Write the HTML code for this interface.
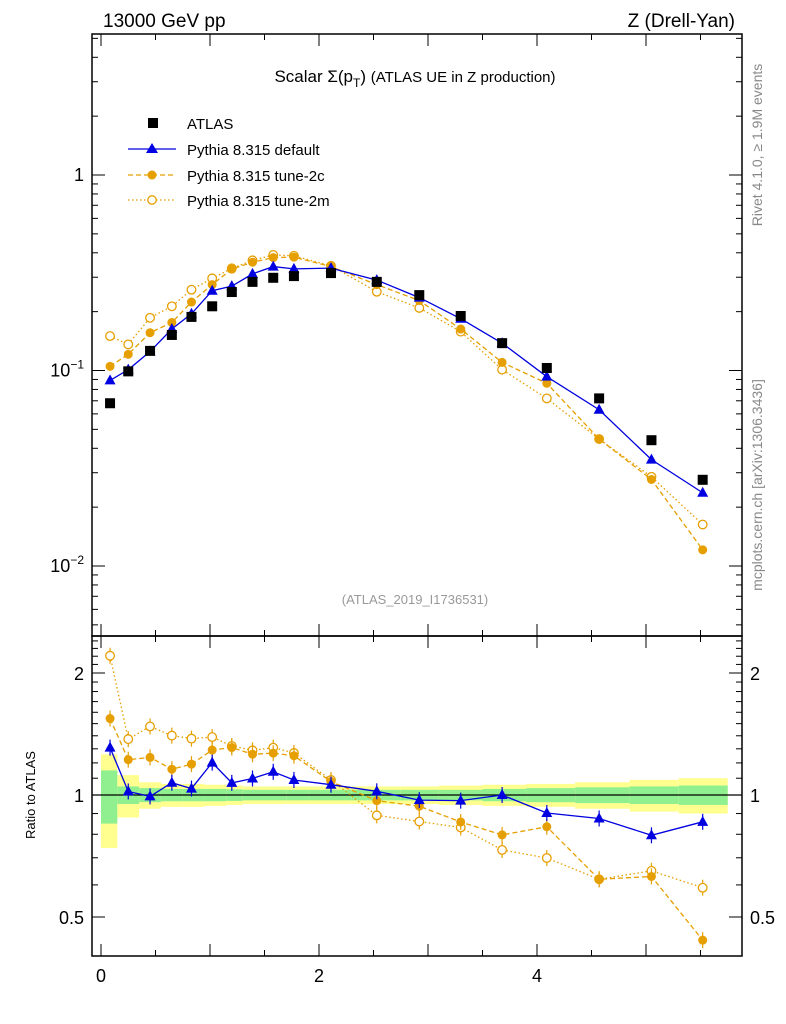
<!DOCTYPE html>
<html><head><meta charset="utf-8"><style>
html,body{margin:0;padding:0;background:#fff}
svg{display:block;font-family:"Liberation Sans",sans-serif}
</style></head><body>
<svg id="chart" width="786" height="1024" viewBox="0 0 786 1024" xmlns="http://www.w3.org/2000/svg">
<text x="103" y="27" font-size="19">13000 GeV pp</text>
<text x="735" y="27" font-size="19" text-anchor="end">Z (Drell-Yan)</text>
<text x="415" y="82" font-size="17" text-anchor="middle">Scalar Σ(p<tspan font-size="12" dy="5">T</tspan><tspan dy="-5">) </tspan><tspan font-size="15">(ATLAS UE in Z production)</tspan></text>
<text transform="translate(762,145) rotate(-90)" font-size="14" fill="#888" text-anchor="middle">Rivet 4.1.0, ≥ 1.9M events</text>
<text transform="translate(762,485) rotate(-90)" font-size="14" fill="#888" text-anchor="middle">mcplots.cern.ch [arXiv:1306.3436]</text>
<text x="415" y="604" font-size="13" fill="#999" text-anchor="middle">(ATLAS_2019_I1736531)</text>
<text transform="translate(35,795) rotate(-90)" font-size="13" text-anchor="middle">Ratio to ATLAS</text>
<g id="bands"></g><g id="axes"></g><g id="series"></g>
<g>
 <rect x="148" y="118" width="10" height="10" fill="#000"/>
 <text x="187" y="129" font-size="15">ATLAS</text>
 <line x1="128" y1="149" x2="176" y2="149" stroke="#0000e0" stroke-width="1.3"/>
 <polygon points="152,143 158,153 146,153" fill="#0000e0"/>
 <text x="187" y="155" font-size="15">Pythia 8.315 default</text>
 <line x1="128" y1="175" x2="176" y2="175" stroke="#e69f00" stroke-width="1.3" stroke-dasharray="5,3"/>
 <circle cx="152" cy="175" r="4.5" fill="#e69f00"/>
 <text x="187" y="181" font-size="15">Pythia 8.315 tune-2c</text>
 <line x1="128" y1="200" x2="176" y2="200" stroke="#e69f00" stroke-width="1.3" stroke-dasharray="1.5,2.5"/>
 <circle cx="152" cy="200" r="4.2" fill="#fff" stroke="#e69f00" stroke-width="1.3"/>
 <text x="187" y="206" font-size="15">Pythia 8.315 tune-2m</text>
</g>
</svg>
<script>
const xCenters=[0.083,0.25,0.45,0.65,0.83,1.02,1.2,1.39,1.58,1.77,2.11,2.53,2.92,3.3,3.68,4.09,4.57,5.05,5.52];
const atlasVals=[0.068,0.099,0.126,0.152,0.188,0.213,0.252,0.284,0.298,0.304,0.315,0.284,0.243,0.19,0.138,0.103,0.072,0.044,0.0276];
const defaultVals=[0.089,0.101,0.125,0.163,0.195,0.256,0.27,0.312,0.34,0.331,0.334,0.29,0.236,0.184,0.138,0.093,0.063,0.035,0.0237];
const tune2cVals=[0.105,0.121,0.156,0.176,0.224,0.275,0.33,0.358,0.378,0.38,0.34,0.275,0.228,0.163,0.11,0.086,0.0446,0.0277,0.0121];
const tune2mVals=[0.15,0.136,0.186,0.213,0.259,0.296,0.333,0.366,0.39,0.386,0.343,0.253,0.209,0.158,0.101,0.072,0.0446,0.0286,0.0163];
const binEdges=[0,0.15,0.35,0.55,0.75,0.95,1.15,1.3,1.5,1.7,1.9,2.3,2.75,3.1,3.5,3.9,4.35,4.85,5.3,5.75];
const greenErr=[0.15,0.05,0.04,0.035,0.035,0.035,0.033,0.03,0.03,0.03,0.03,0.03,0.03,0.03,0.035,0.04,0.045,0.05,0.055];
const yellowErr=[0.26,0.12,0.075,0.065,0.065,0.06,0.055,0.05,0.05,0.05,0.05,0.05,0.05,0.055,0.06,0.065,0.075,0.09,0.1];
const mainTicks=[1,0.1,0.01];
const ratioTicks=[0.5,1,2];
const xTicks=[0,2,4];

const NS="http://www.w3.org/2000/svg";
const L=92,R=742,T=34,MB=636,RB=956;
const X=v=>101+v*109;
const Ym=v=>175-Math.log10(v)*195.5;
const Yr=v=>795-Math.log2(v)*122;
function mk(tag,attrs,parent){const e=document.createElementNS(NS,tag);for(const k in attrs)e.setAttribute(k,attrs[k]);parent.appendChild(e);return e;}
const bands=document.getElementById('bands'),axes=document.getElementById('axes'),series=document.getElementById('series');

for(let i=0;i<xCenters.length;i++){
  const x0=X(binEdges[i]),x1=X(binEdges[i+1]);
  const y=mk('rect',{x:x0,y:Yr(1+yellowErr[i]),width:x1-x0,height:Yr(1-yellowErr[i])-Yr(1+yellowErr[i]),fill:'#ffff90'},bands);
  
  
  const g=mk('rect',{x:x0,y:Yr(1+greenErr[i]),width:x1-x0,height:Yr(1-greenErr[i])-Yr(1+greenErr[i]),fill:'#90f090'},bands);
  
  
}
mk('line',{x1:L,x2:R,y1:Yr(1),y2:Yr(1),stroke:'#000','stroke-width':1.3},axes);
// frames
mk('rect',{x:L,y:T,width:R-L,height:MB-T,fill:'none',stroke:'#000','stroke-width':1.5},axes);
mk('rect',{x:L,y:MB,width:R-L,height:RB-MB,fill:'none',stroke:'#000','stroke-width':1.5},axes);
// x ticks
for(let v=0;v<=5.8;v+=0.5){
  const big=Math.abs(v%1)<1e-6, len=big?12:6;
  for(const [yb,yt] of [[MB,T],[RB,MB]]){
    mk('line',{x1:X(v),x2:X(v),y1:yb,y2:yb-len,stroke:'#000'},axes);
    mk('line',{x1:X(v),x2:X(v),y1:yt,y2:yt+len,stroke:'#000'},axes);
  }
}
xTicks.forEach(v=>{const t=mk('text',{x:X(v),y:982,'font-size':18,'text-anchor':'middle'},axes);t.textContent=v;

});
// main y ticks
for(let d=-3;d<=0;d++)for(let m=1;m<10;m++){
  const v=m*Math.pow(10,d),y=Ym(v);if(y<T||y>MB)continue;
  const len=m===1?13:6;
  mk('line',{x1:L,x2:L+len,y1:y,y2:y,stroke:'#000'},axes);
  mk('line',{x1:R,x2:R-len,y1:y,y2:y,stroke:'#000'},axes);
}
mainTicks.forEach(v=>{const t=mk('text',{x:84,y:Ym(v)+6,'font-size':18,'text-anchor':'end'},axes);
 if(v===1)t.textContent='1';else{t.textContent='10';const s=document.createElementNS(NS,'tspan');s.setAttribute('dy','-8');s.setAttribute('font-size','12');s.textContent=String(Math.round(Math.log10(v))).replace('-','−');t.appendChild(s);}
 
 });
// ratio y ticks
for(let v=0.4;v<=2.45;v+=0.1){const y=Yr(v);if(y<MB||y>RB)continue;
 const big=[0.5,1,2].some(a=>Math.abs(a-v)<1e-6),len=big?13:6;
 mk('line',{x1:L,x2:L+len,y1:y,y2:y,stroke:'#000'},axes);mk('line',{x1:R,x2:R-len,y1:y,y2:y,stroke:'#000'},axes);}
ratioTicks.forEach(v=>{const t=mk('text',{x:84,y:Yr(v)+7,'font-size':18,'text-anchor':'end'},axes);t.textContent=v;
 
 
 const t2=mk('text',{x:750,y:Yr(v)+7,'font-size':18},axes);t2.textContent=v;
 
 });

function drawSeries(vals,color,dash,marker,name){
  const ratios=vals.map((v,i)=>v/atlasVals[i]);
  for(const [arr,Y] of [[vals,Ym],[ratios,Yr]]){
    const pts=arr.map((v,i)=>X(xCenters[i])+','+Y(v)).join(' ');
    const pl=mk('polyline',{points:pts,fill:'none',stroke:color,'stroke-width':1.3,'stroke-dasharray':dash},series);
    
    
    arr.forEach((v,i)=>{
      const x=X(xCenters[i]),y=Y(v);
      if(Y===Yr){mk('line',{x1:x,x2:x,y1:y-8,y2:y+8,stroke:color,'stroke-width':1.2},series);}
      let m;
      if(marker==='tri')m=mk('polygon',{points:`${x},${y-6} ${x+5.5},${y+4} ${x-5.5},${y+4}`,fill:color},series);
      else if(marker==='dot')m=mk('circle',{cx:x,cy:y,r:4.5,fill:color},series);
      else m=mk('circle',{cx:x,cy:y,r:4.3,fill:'#fff',stroke:color,'stroke-width':1.3},series);
      
      
    });
  }
}
drawSeries(tune2mVals,'#e69f00','1.5,2.5','open','tune-2m');
drawSeries(tune2cVals,'#e69f00','5,3','dot','tune-2c');
drawSeries(defaultVals,'#0000e0','none','tri','default');
atlasVals.forEach((v,i)=>{const r=mk('rect',{x:X(xCenters[i])-5,y:Ym(v)-5,width:10,height:10,fill:'#000'},series);
 
 });
</script>
</body></html>
